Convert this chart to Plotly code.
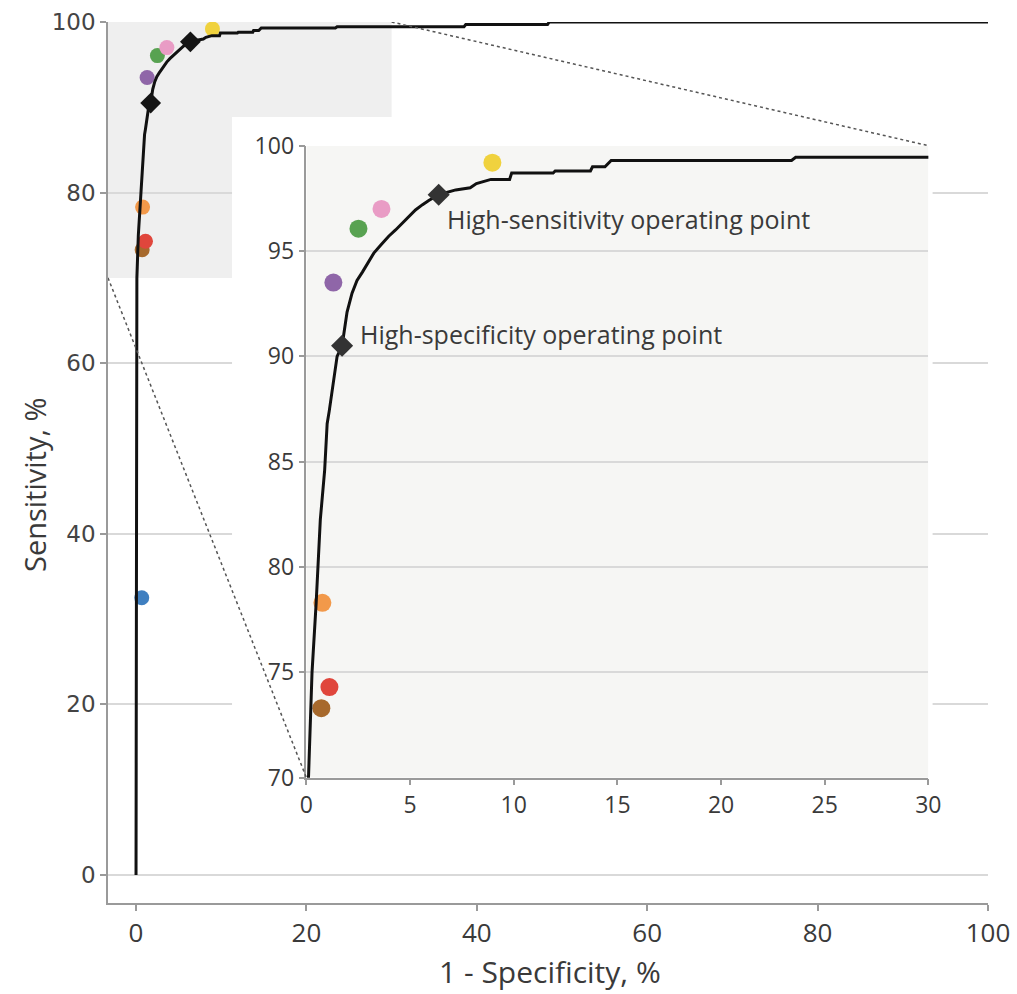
import plotly.graph_objects as go

# ---------------- data ----------------
roc_fpr = [0, 0.05, 0.1, 0.27, 0.47, 0.56, 0.67, 0.88, 1.0, 1.1, 1.48, 1.72, 1.96, 2.2,
           2.44, 2.7, 2.95, 3.25, 3.6, 3.97, 4.3, 4.6, 4.95, 5.26, 5.6, 5.9, 6.38, 6.8, 7.2,
           7.9, 8.2, 8.9, 9.8, 9.9, 11.9, 12.0, 13.7, 13.8, 14.4, 14.7, 23.4, 23.6, 30,
           38.5, 38.7, 48.3, 48.5, 100]
roc_tpr = [0, 60, 70, 75, 78.3, 80, 82.25, 84.6, 86.8, 87.4, 90.0, 90.5, 92.1, 93.0,
           93.6, 94.0, 94.4, 94.9, 95.3, 95.7, 96.0, 96.3, 96.6, 96.95, 97.2, 97.4, 97.67, 97.8,
           97.9, 98.0, 98.2, 98.4, 98.4, 98.7, 98.7, 98.8, 98.8, 99.0, 99.0, 99.3, 99.3,
           99.45, 99.45, 99.45, 99.7, 99.7, 100, 100]

reader_fpr = [0.67, 0.72, 1.11, 0.77, 1.30, 2.51, 3.62, 8.97]
reader_tpr = [32.5, 73.3, 74.3, 78.3, 93.5, 96.06, 97.0, 99.19]
reader_colors = ["#3f7fc0", "#a7692c", "#e0463c", "#f2994a", "#8f66a8", "#58a251", "#e99cc5", "#f0d23e"]

op_labels = ["High-specificity operating point", "High-sensitivity operating point"]
op_fpr = [1.72, 6.38]
op_tpr = [90.5, 97.67]

main_ticks = [0, 20, 40, 60, 80, 100]
inset_xticks = [0, 5, 10, 15, 20, 25, 30]
inset_yticks = [70, 75, 80, 85, 90, 95, 100]

# ---------------- geometry ----------------
lo = -3.29          # main axis lower bound (both axes)
hi = 100
zoom_x = [0, 30]    # zoomed region (data units)
zoom_y = [70, 100]
inset_in_main_x = [20, 93]     # where the inset sits, in main-axis units
inset_in_main_y = [11.4, 85.5]


def dom(a, b):
    return [(a - lo) / (hi - lo), (b - lo) / (hi - lo)]


FONT = "Open Sans, Liberation Sans, sans-serif"
YFONT = "DejaVu Sans, Verdana, sans-serif"
TXT = "#3a3a3a"
GRID = "#d9d9d9"
AXL = "#9a9a9a"

fig = go.Figure()

# main plot
fig.add_trace(go.Scatter(x=reader_fpr, y=reader_tpr, mode="markers",
                         marker=dict(size=15, color=reader_colors, line=dict(width=0)),
                         showlegend=False, hoverinfo="skip", xaxis="x", yaxis="y"))
fig.add_trace(go.Scatter(x=roc_fpr, y=roc_tpr, mode="lines",
                         line=dict(color="#111111", width=3), cliponaxis=False,
                         showlegend=False, hoverinfo="skip", xaxis="x", yaxis="y"))
fig.add_trace(go.Scatter(x=op_fpr, y=op_tpr, mode="markers",
                         marker=dict(size=16, symbol="diamond", color="#151515"),
                         showlegend=False, hoverinfo="skip", xaxis="x", yaxis="y"))

# inset plot
fig.add_trace(go.Scatter(x=reader_fpr, y=reader_tpr, mode="markers",
                         marker=dict(size=18, color=reader_colors, line=dict(width=0)),
                         showlegend=False, hoverinfo="skip", xaxis="x2", yaxis="y2"))
fig.add_trace(go.Scatter(x=roc_fpr, y=roc_tpr, mode="lines",
                         line=dict(color="#111111", width=3),
                         showlegend=False, hoverinfo="skip", xaxis="x2", yaxis="y2"))
fig.add_trace(go.Scatter(x=op_fpr, y=op_tpr, mode="markers",
                         marker=dict(size=17, symbol="diamond", color="#333333"),
                         showlegend=False, hoverinfo="skip", xaxis="x2", yaxis="y2"))

axis_common = dict(showline=True, linecolor=AXL, linewidth=1.5, ticks="outside",
                   ticklen=6, tickwidth=1.5, tickcolor=AXL, zeroline=False, automargin=False)
tf_inset = dict(family=FONT, size=23, color=TXT)

fig.update_layout(
    width=1017, height=994,
    margin=dict(l=108, r=29, t=22, b=91, autoexpand=False),
    paper_bgcolor="white", plot_bgcolor="white",
    xaxis=dict(range=[lo, hi], tickvals=main_ticks, showgrid=False, domain=[0, 1],
               anchor="y", tickfont=dict(family=FONT, size=26, color=TXT), **axis_common),
    yaxis=dict(range=[lo, hi], tickvals=main_ticks, showgrid=True, gridcolor=GRID,
               gridwidth=2, domain=[0, 1], anchor="x",
               tickfont=dict(family=YFONT, size=23, color="#444444"), **axis_common),
    xaxis2=dict(range=zoom_x, tickvals=inset_xticks, showgrid=False,
                domain=dom(*inset_in_main_x), anchor="y2", tickfont=tf_inset, **axis_common),
    yaxis2=dict(range=zoom_y, tickvals=inset_yticks, showgrid=True, gridcolor=GRID,
                gridwidth=2, domain=dom(*inset_in_main_y), anchor="x2", tickfont=tf_inset,
                **axis_common),
)

shapes = [
    # shaded zoom region in the main plot
    dict(type="rect", xref="x", yref="y", x0=lo, x1=zoom_x[1], y0=zoom_y[0], y1=zoom_y[1],
         fillcolor="#efefef", line=dict(width=0), layer="below"),
    # white backing of the inset (above main gridlines, below main traces)
    dict(type="rect", xref="x", yref="y", x0=11.27, x1=93.5, y0=5.3, y1=88.86,
         fillcolor="white", line=dict(width=0), layer="between"),
    # inset background
    dict(type="rect", xref="x2", yref="y2", x0=zoom_x[0], x1=zoom_x[1], y0=zoom_y[0], y1=zoom_y[1],
         fillcolor="#f6f6f4", line=dict(width=0), layer="below"),
    # connector dotted lines
    dict(type="line", xref="x", yref="y", x0=zoom_x[1], y0=zoom_y[1],
         x1=inset_in_main_x[1], y1=inset_in_main_y[1],
         line=dict(color="#555555", width=1.5, dash="dot"), layer="above"),
    dict(type="line", xref="x", yref="y", x0=lo, y0=zoom_y[0],
         x1=inset_in_main_x[0], y1=inset_in_main_y[0],
         line=dict(color="#555555", width=1.5, dash="dot"), layer="above"),
]
fig.update_layout(shapes=shapes)

annotations = [
    dict(text=op_labels[1], x=6.7, y=96.53, xref="x2", yref="y2", xanchor="left",
         yanchor="middle", showarrow=False, font=dict(family=FONT, size=25, color=TXT)),
    dict(text=op_labels[0], x=2.51, y=91.07, xref="x2", yref="y2", xanchor="left",
         yanchor="middle", showarrow=False, font=dict(family=FONT, size=25, color=TXT)),
    dict(text="Sensitivity, %", x=(35 - 108) / 880, y=(903 - 485) / 881, xref="paper",
         yref="paper", textangle=-90, showarrow=False, xanchor="center", yanchor="middle",
         font=dict(family=FONT, size=29, color=TXT)),
    dict(text="1 - Specificity, %", x=(550 - 108) / 880, y=(903 - 972) / 881, xref="paper",
         yref="paper", showarrow=False, xanchor="center", yanchor="middle",
         font=dict(family=FONT, size=30, color=TXT)),
]
fig.update_layout(annotations=annotations)

fig.write_html("out.html", config={"responsive": False, "displayModeBar": False},
               post_script="document.body.style.margin='0';document.body.style.overflow='hidden';")
